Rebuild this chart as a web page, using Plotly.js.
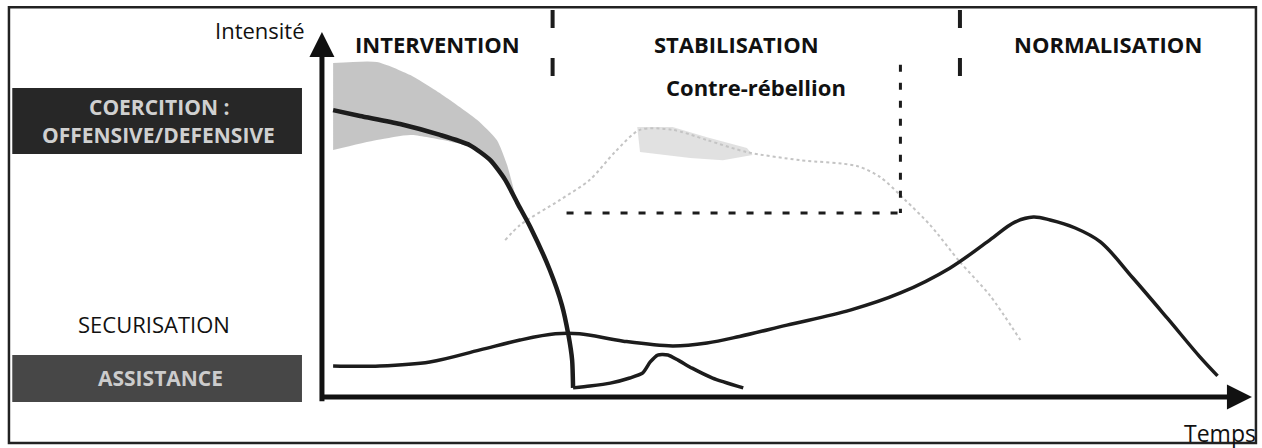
<!DOCTYPE html>
<html>
<head>
<meta charset="utf-8">
<script src="https://cdn.plot.ly/plotly-3.0.1.min.js"></script>
<style>html,body{margin:0;padding:0;background:#fff;}#chart{width:1262px;height:448px;}</style>
</head>
<body>
<div id="chart"></div>
<script>
// ---- Data (time 0..100, intensity 0..100) ----
const coercionTime = [1.2, 4.1, 8.4, 12.7, 15.9, 18.1, 19.7, 21.0, 22.4, 24.5, 25.8, 26.5, 26.9, 27.0];
const coercionInt  = [78.6, 77.0, 74.8, 71.8, 69.0, 64.9, 59.5, 53.2, 46.6, 34.8, 25.2, 17.0, 10.1, 2.5];

const coercionBandTime = [1.2, 5.9, 9.5, 13.0, 16.7, 18.8, 19.9, 21.0, 19.7, 18.1, 15.9, 13.0, 9.5, 5.9, 1.2];
const coercionBandInt  = [91.5, 91.8, 88.2, 82.7, 75.9, 70.4, 63.6, 52.6, 59.5, 64.9, 68.5, 70.4, 71.8, 70.4, 67.7];

const assistanceTime = [27.0, 28.8, 31.0, 33.1, 34.5, 35.3, 36.1, 37.2, 38.3, 39.8, 42.0, 45.3];
const assistanceInt  = [2.5, 3.0, 3.8, 5.2, 6.6, 9.6, 11.5, 11.5, 10.1, 7.9, 5.2, 2.5];

const securisationTime = [1.2, 6.2, 11.6, 17.0, 21.3, 25.1, 27.7, 32.4, 37.7, 41.4, 44.9, 50.0, 56.8, 62.2, 67.5, 71.8, 74.5, 76.5, 78.3, 81.0, 83.7, 87.2, 90.9, 94.4, 96.3];
const securisationInt  = [8.5, 8.5, 9.6, 12.9, 15.6, 17.3, 17.3, 15.3, 14.0, 14.8, 16.6, 19.7, 23.8, 28.5, 35.3, 43.0, 47.9, 49.3, 48.5, 46.3, 42.5, 32.6, 21.6, 11.0, 5.8];

const rebellionTime = [19.7, 21.3, 25.6, 28.8, 31.5, 34.2, 37.7, 41.4, 45.7, 51.4, 57.5, 60.0, 62.7, 65.4, 68.6, 71.8, 75.1];
const rebellionInt  = [43.0, 47.1, 54.0, 59.5, 67.1, 73.2, 73.2, 70.4, 67.1, 64.9, 63.3, 60.3, 54.0, 47.1, 37.0, 27.9, 15.6];

const rebellionBandTime = [33.9, 37.7, 41.4, 45.7, 46.3, 43.1, 39.6, 34.2];
const rebellionBandInt  = [74.0, 74.0, 71.2, 68.2, 66.3, 64.9, 65.5, 67.1];

// phase boundaries on the time axis
const phaseBounds = [24.8, 68.6];
const phaseNames = ['INTERVENTION', 'STABILISATION', 'NORMALISATION'];
// counter-insurgency window (time span, intensity span)
const rebellionBoxTime = [26.3, 62.2];
const rebellionBoxInt = [50.4, 91.0];

const levelLabels = ['COERCITION :', 'OFFENSIVE/DEFENSIVE', 'SECURISATION', 'ASSISTANCE'];

// ---- Traces ----
const dark = '#1c1c1c';
const traces = [
  {x: rebellionBandTime, y: rebellionBandInt, mode: 'lines', fill: 'toself', fillcolor: 'rgba(200,200,200,0.55)', line: {width: 0}, hoverinfo: 'skip'},
  {x: rebellionTime, y: rebellionInt, mode: 'lines', line: {color: '#c4c4c4', width: 2, dash: 'dot', shape: 'spline', smoothing: 0.8}, hoverinfo: 'skip'},
  {x: coercionBandTime, y: coercionBandInt, mode: 'lines', fill: 'toself', fillcolor: 'rgba(150,150,150,0.55)', line: {width: 0, shape: 'spline', smoothing: 0.6}, hoverinfo: 'skip'},
  {x: securisationTime, y: securisationInt, mode: 'lines', line: {color: dark, width: 3.5, shape: 'spline', smoothing: 1}, hoverinfo: 'skip'},
  {x: coercionTime, y: coercionInt, mode: 'lines', line: {color: dark, width: 4.5, shape: 'spline', smoothing: 0.6}, hoverinfo: 'skip'},
  {x: assistanceTime, y: assistanceInt, mode: 'lines', line: {color: dark, width: 3.5, shape: 'spline', smoothing: 0.6}, hoverinfo: 'skip'}
];

// ---- Layout ----
const shapes = [
  // frame
  {type: 'rect', xref: 'paper', yref: 'paper', x0: 0.0071, x1: 0.9952, y0: 0.011, y1: 0.984, line: {color: '#222', width: 2.5}, layer: 'below'},
  // level boxes
  {type: 'rect', xref: 'x', yref: 'y', x0: -33.3, x1: -2.15, y0: 66.6, y1: 84.66, fillcolor: '#272727', line: {width: 0}, layer: 'below'},
  {type: 'rect', xref: 'x', yref: 'y', x0: -33.3, x1: -2.15, y0: -1.37, y1: 11.5, fillcolor: '#474747', line: {width: 0}, layer: 'below'},
  // counter-insurgency dashed window
  {type: 'line', xref: 'x', yref: 'y', x0: rebellionBoxTime[0], x1: rebellionBoxTime[1], y0: rebellionBoxInt[0], y1: rebellionBoxInt[0], line: {color: dark, width: 3, dash: '7px,11px'}},
  {type: 'line', xref: 'x', yref: 'y', x0: rebellionBoxTime[1], x1: rebellionBoxTime[1], y0: rebellionBoxInt[1], y1: rebellionBoxInt[0], line: {color: dark, width: 3, dash: '7px,11px'}}
];
phaseBounds.forEach(b => shapes.push({type: 'line', xref: 'x', yref: 'y', x0: b, x1: b, y0: 106.0, y1: 87.4, line: {color: dark, width: 4, dash: '18px,30px'}}));

const font = 'Open Sans, Lato, sans-serif';
const annotations = [
  // axes arrows
  {x: 0, y: 100, ax: 0, ay: -1.6, xref: 'x', yref: 'y', axref: 'x', ayref: 'y', text: '', showarrow: true, arrowhead: 2, arrowsize: 1.0, arrowwidth: 5, arrowcolor: '#111', standoff: 0},
  {x: 100, y: 0, ax: -0.1, ay: 0, xref: 'x', yref: 'y', axref: 'x', ayref: 'y', text: '', showarrow: true, arrowhead: 2, arrowsize: 1.0, arrowwidth: 5, arrowcolor: '#111', standoff: 0},
  {x: -1.6, y: 100.5, xref: 'x', yref: 'y', text: 'Intensité', showarrow: false, xanchor: 'right', yanchor: 'middle', font: {family: font, size: 22, color: '#111'}},
  {x: 100.6, y: -9.9, xref: 'x', yref: 'y', text: 'Temps', showarrow: false, xanchor: 'right', yanchor: 'middle', font: {family: font, size: 23, color: '#111'}},
  {x: 12.4, y: 96.7, xref: 'x', yref: 'y', text: phaseNames[0], showarrow: false, font: {family: font, size: 22, color: '#111', weight: 700}},
  {x: 44.6, y: 96.7, xref: 'x', yref: 'y', text: phaseNames[1], showarrow: false, font: {family: font, size: 22, color: '#111', weight: 700}},
  {x: 84.5, y: 96.7, xref: 'x', yref: 'y', text: phaseNames[2], showarrow: false, font: {family: font, size: 22, color: '#111', weight: 700}},
  {x: 46.7, y: 84.9, xref: 'x', yref: 'y', text: 'Contre-rébellion', showarrow: false, font: {family: font, size: 22, color: '#111', weight: 700}},
  {x: -17.5, y: 79.4, xref: 'x', yref: 'y', text: levelLabels[0], showarrow: false, font: {family: font, size: 21, color: '#d0d0d0', weight: 700}},
  {x: -17.6, y: 71.7, xref: 'x', yref: 'y', text: levelLabels[1], showarrow: false, font: {family: font, size: 21, color: '#d0d0d0', weight: 700}},
  {x: -18.1, y: 20.0, xref: 'x', yref: 'y', text: levelLabels[2], showarrow: false, font: {family: font, size: 22, color: '#111'}},
  {x: -17.4, y: 5.2, xref: 'x', yref: 'y', text: levelLabels[3], showarrow: false, font: {family: font, size: 21, color: '#cccccc', weight: 700}}
];

const layout = {
  width: 1262, height: 448,
  margin: {l: 0, r: 0, t: 0, b: 0, pad: 0},
  paper_bgcolor: '#fff', plot_bgcolor: '#fff',
  showlegend: false,
  xaxis: {range: [-34.62, 101.08], visible: false, fixedrange: true},
  yaxis: {range: [-13.97, 108.77], visible: false, fixedrange: true},
  shapes: shapes,
  annotations: annotations
};

Plotly.newPlot('chart', traces, layout, {staticPlot: true, displayModeBar: false});
</script>
</body>
</html>
